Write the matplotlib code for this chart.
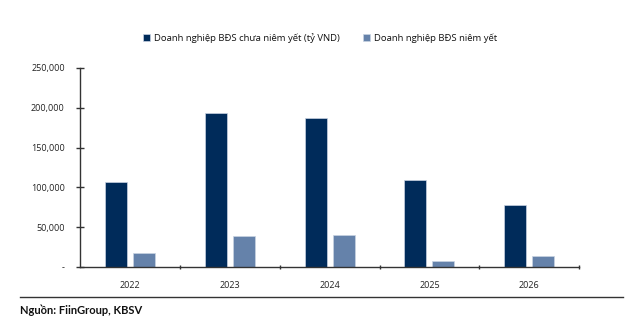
import matplotlib.pyplot as plt
import numpy as np
from matplotlib.lines import Line2D

plt.rcParams['font.family'] = ['Open Sans', 'DejaVu Sans']

years = ['2022', '2023', '2024', '2025', '2026']
unlisted = [107000, 193000, 187000, 109000, 77500]
listed = [17000, 39000, 40000, 8000, 14000]
series_names = ['Doanh nghiệp BĐS chưa niêm yết (tỷ VND)', 'Doanh nghiệp BĐS niêm yết']
yticks = [0, 50000, 100000, 150000, 200000, 250000]

dark = '#002b5a'
light = '#6582aa'

fig = plt.figure(figsize=(6.4, 3.27), dpi=100)
ax = fig.add_axes([0.125, 0.1835, 0.78, 0.609])

x = np.arange(len(years))
w = 0.22
ax.bar(x - 0.14, unlisted, w, color=dark, edgecolor='#c9d3e2', linewidth=0.5, label=series_names[0])
ax.bar(x + 0.14, listed, w, color=light, edgecolor='#c9d3e2', linewidth=0.5, label=series_names[1])

ax.set_xlim(-0.5, len(years) - 0.5)
ax.set_ylim(0, 250000)
ax.set_yticks(yticks)
ax.set_yticklabels(['-' if v == 0 else f'{v:,}' for v in yticks])
ax.set_xticks(x)
ax.set_xticklabels(years)
ax.set_xticks(np.arange(len(years)) + 0.5, minor=True)

for s in ['top', 'right']:
    ax.spines[s].set_visible(False)
for s in ['left', 'bottom']:
    ax.spines[s].set_color('#333333')
    ax.spines[s].set_linewidth(1.0)

ax.tick_params(axis='y', direction='inout', length=6, width=1, color='#333333',
               labelsize=6.5, labelcolor='#222222', pad=8)
ax.tick_params(axis='x', which='major', length=0, labelsize=6.5, labelcolor='#222222', pad=10)
ax.tick_params(axis='x', which='minor', direction='inout', length=3, width=1, color='#333333')

fig.legend(loc='center', bbox_to_anchor=(0.5, 0.884), ncol=2, frameon=False,
           fontsize=6.8, handlelength=0.8, handleheight=0.8, handletextpad=0.4,
           columnspacing=2.4, labelcolor='#111111')

fig.add_artist(Line2D([20 / 640, 623 / 640], [1 - 297 / 327, 1 - 297 / 327],
                      color='#333333', linewidth=1.0))
fig.text(20 / 640, 1 - 310 / 327, 'Nguồn: FiinGroup, KBSV', fontsize=8,
         family=['Lato', 'DejaVu Sans'], fontweight='bold', color='#111111',
         va='center', ha='left')

fig.savefig('out.png', dpi=100)
